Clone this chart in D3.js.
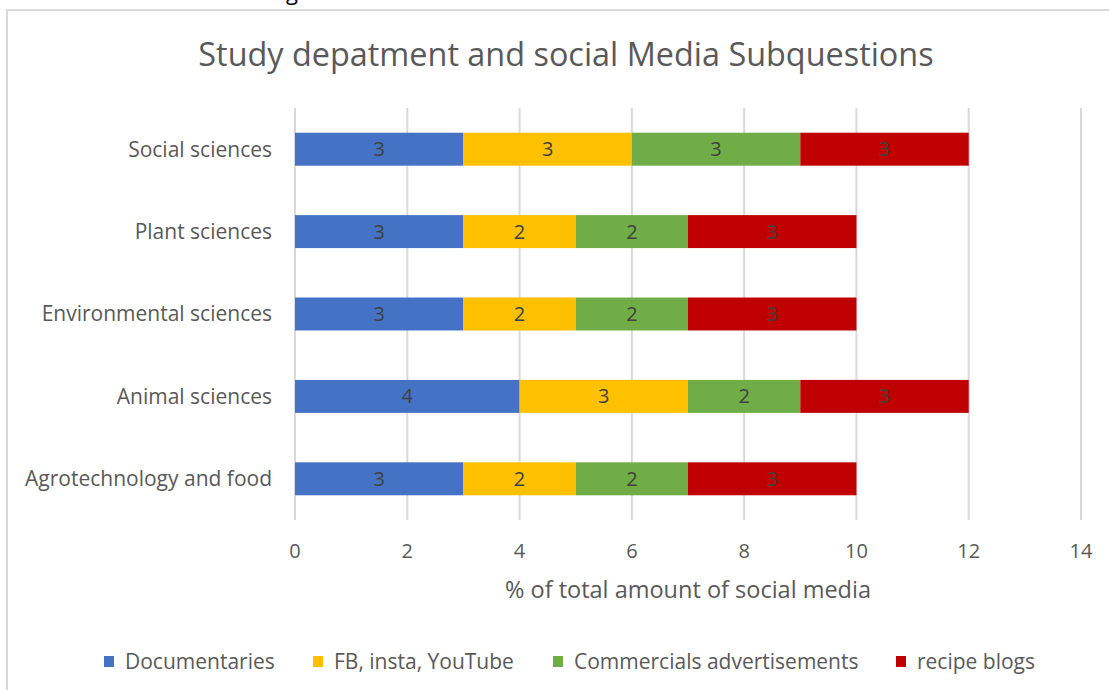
<!DOCTYPE html>
<html>
<head>
<meta charset="utf-8">
<script src="https://cdn.jsdelivr.net/npm/d3@7"></script>
<style>
  html, body { margin: 0; padding: 0; background: #fff; }
  svg { display: block; font-family: "Open Sans", "Noto Sans", sans-serif; }
</style>
</head>
<body>
<svg id="chart" width="1109" height="690"></svg>
<script>
// Departments, listed top to bottom
const categories = ["Social sciences", "Plant sciences", "Environmental sciences", "Animal sciences", "Agrotechnology and food"];
// Series names as shown in the legend
const seriesNames = ["Documentaries", "FB, insta, YouTube", "Commercials advertisements", "recipe blogs"];
// Values per series, in the same order as categories
const documentaries = [3, 3, 3, 4, 3];
const fbInstaYouTube = [3, 2, 2, 3, 2];
const commercials = [3, 2, 2, 2, 2];
const recipeBlogs = [3, 3, 3, 3, 3];
const xTicks = [0, 2, 4, 6, 8, 10, 12, 14];
const seriesColors = ["#4472C4", "#FFC000", "#70AD47", "#C00000"];

const titleText = "Study depatment and social Media Subquestions";
const xAxisTitle = "% of total amount of social media";

const svg = d3.select("#chart");

// chart frame (open to the right and bottom)
svg.append("rect")
  .attr("x", 7).attr("y", 10)
  .attr("width", 1300).attr("height", 900)
  .attr("fill", "none").attr("stroke", "#d9d9d9").attr("stroke-width", 2);

// descender of the caption line above the chart
svg.append("text")
  .attr("x", 298).attr("y", 0)
  .attr("text-anchor", "end")
  .attr("font-size", 22).attr("fill", "#000")
  .text("ng");

const plot = { left: 295, right: 1081, top: 108, bottom: 520 };

const x = d3.scaleLinear().domain([0, 14]).range([plot.left, plot.right]);
const y = d3.scaleBand().domain(categories).range([plot.top, plot.bottom]).paddingInner(0.6).paddingOuter(0.3);

// stacked data
const rows = categories.map((c, i) => ({
  category: c,
  s0: documentaries[i], s1: fbInstaYouTube[i], s2: commercials[i], s3: recipeBlogs[i]
}));
const keys = ["s0", "s1", "s2", "s3"];
const stacked = d3.stack().keys(keys)(rows);

// vertical gridlines
svg.append("g").selectAll("line")
  .data(xTicks)
  .join("line")
  .attr("x1", d => x(d)).attr("x2", d => x(d))
  .attr("y1", plot.top).attr("y2", plot.bottom)
  .attr("stroke", "#d9d9d9").attr("stroke-width", 2);

// bars
const layers = svg.append("g").selectAll("g")
  .data(stacked)
  .join("g")
  .attr("fill", (d, i) => seriesColors[i]);

layers.selectAll("rect")
  .data(d => d)
  .join("rect")
  .attr("x", d => x(d[0]))
  .attr("y", d => y(d.data.category))
  .attr("width", d => x(d[1]) - x(d[0]))
  .attr("height", y.bandwidth());

// value labels
layers.selectAll("text")
  .data(d => d)
  .join("text")
  .attr("x", d => (x(d[0]) + x(d[1])) / 2)
  .attr("y", d => y(d.data.category) + y.bandwidth() / 2)
  .attr("dy", "0.35em")
  .attr("text-anchor", "middle")
  .attr("font-size", 20)
  .attr("fill", "#404040")
  .text(d => d[1] - d[0]);

// category labels
svg.append("g").selectAll("text")
  .data(categories)
  .join("text")
  .attr("x", 272)
  .attr("y", d => y(d) + y.bandwidth() / 2)
  .attr("dy", "0.35em")
  .attr("text-anchor", "end")
  .attr("font-size", 21)
  .attr("fill", "#595959")
  .text(d => d);

// x tick labels
svg.append("g").selectAll("text")
  .data(xTicks)
  .join("text")
  .attr("x", d => x(d))
  .attr("y", 551)
  .attr("dy", "0.35em")
  .attr("text-anchor", "middle")
  .attr("font-size", 20)
  .attr("fill", "#595959")
  .text(d => d);

// axis title
svg.append("text")
  .attr("x", 688)
  .attr("y", 590)
  .attr("dy", "0.35em")
  .attr("text-anchor", "middle")
  .attr("font-size", 23.5)
  .attr("fill", "#595959")
  .text(xAxisTitle);

// chart title
svg.append("text")
  .attr("x", 566)
  .attr("y", 55)
  .attr("dy", "0.35em")
  .attr("text-anchor", "middle")
  .attr("font-size", 32.4)
  .attr("fill", "#595959")
  .text(titleText);

// legend
const legendX = [104, 313, 553, 896];
const legend = svg.append("g").selectAll("g")
  .data(seriesNames)
  .join("g")
  .attr("transform", (d, i) => `translate(${legendX[i]},662)`);
legend.append("rect")
  .attr("x", 0).attr("y", -6)
  .attr("width", 10).attr("height", 11)
  .attr("fill", (d, i) => seriesColors[i]);
legend.append("text")
  .attr("x", 21)
  .attr("dy", "0.35em")
  .attr("font-size", 21)
  .attr("fill", "#595959")
  .text(d => d);
</script>
</body>
</html>
